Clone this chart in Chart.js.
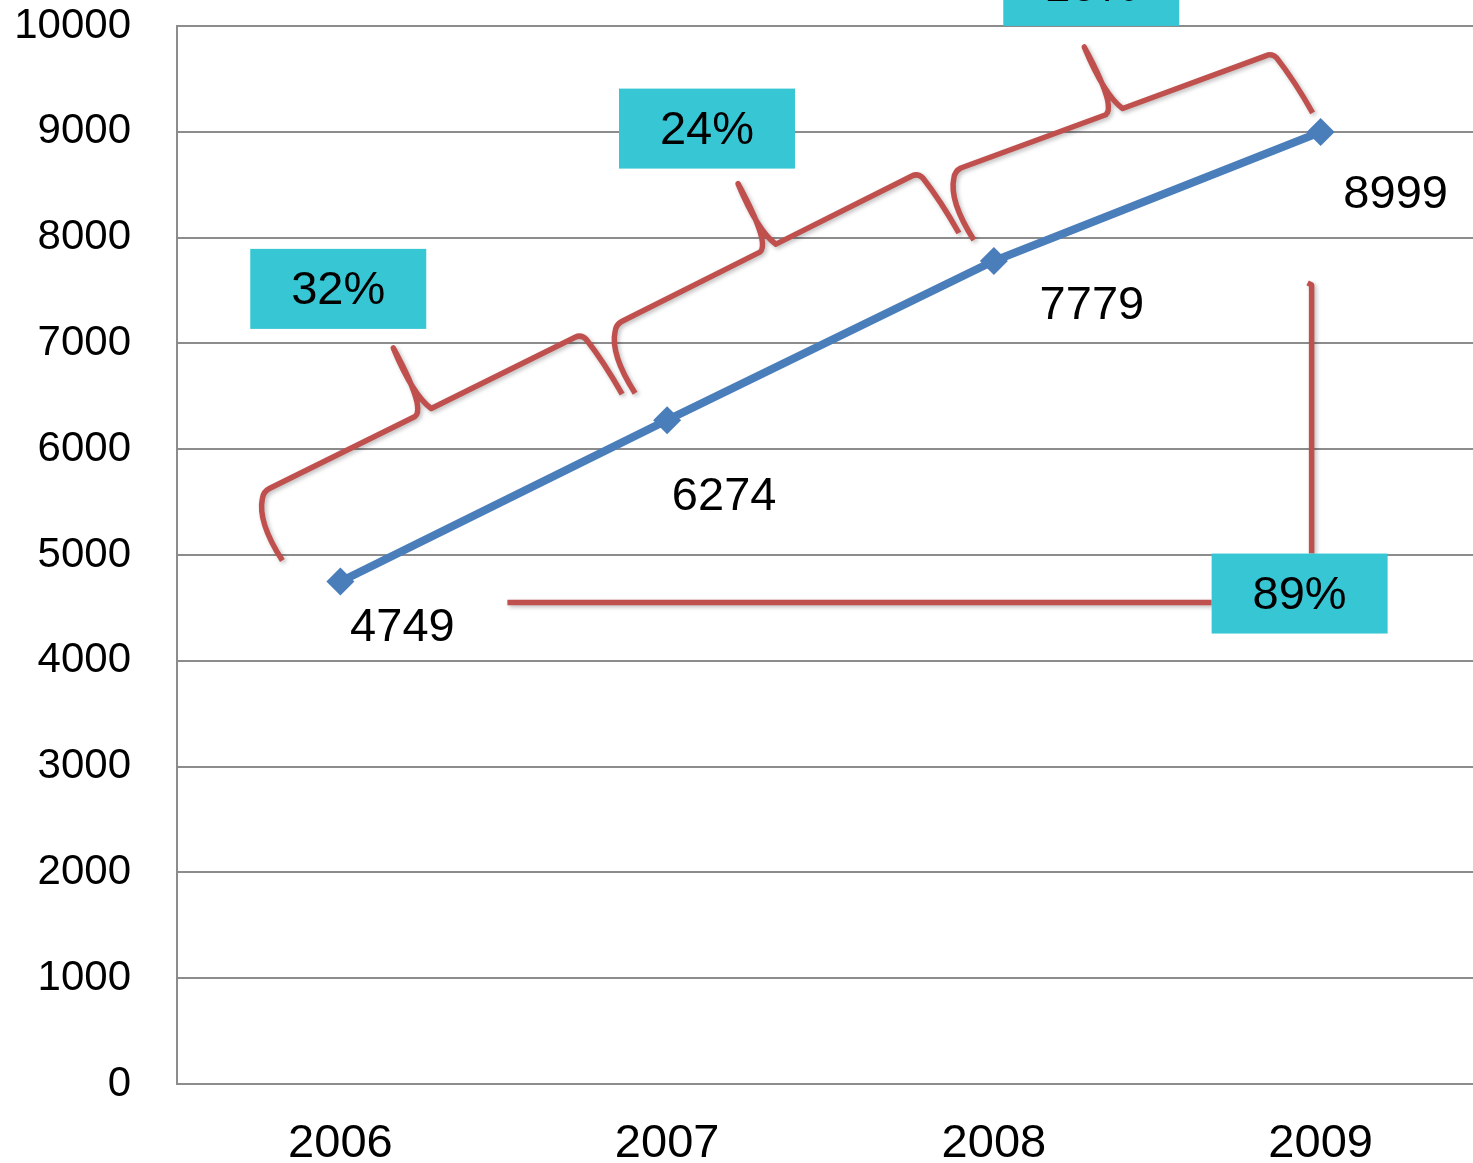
<!DOCTYPE html>
<html>
<head>
<meta charset="utf-8">
<title>Growth 2006-2009</title>
<script src="https://cdn.jsdelivr.net/npm/chart.js@4.4.1/dist/chart.umd.min.js"></script>
<style>
  html, body { margin: 0; padding: 0; background: #fff; overflow: hidden; }
  canvas { display: block; }
</style>
</head>
<body>
<canvas id="growthChart" width="1484" height="1163"></canvas>
<script>
// data
var years = ["2006", "2007", "2008", "2009"];
var values = [4749, 6274, 7779, 8999];
var yMin = 0;
var yMax = 10000;
var yStep = 1000;

var RED = "#C0504D";
var CYAN = "#36C6D4";
var BLUE = "#4A7EBB";

// braces, percentage boxes and value labels drawn on top of the line
var annotations = {
  id: "annotations",
  afterDatasetsDraw: function(chart) {
    var ctx = chart.ctx;
    var pts = chart.getDatasetMeta(0).data;
    var P = pts.map(function(p) { return { x: p.x, y: p.y }; });

    // value labels (offset from each point)
    var labelOffsets = [[62, 46], [57, 77], [98, 45], [75, 63]];
    ctx.save();
    ctx.fillStyle = "#000";
    ctx.font = "47px 'Liberation Sans', Arial, sans-serif";
    ctx.textAlign = "center";
    ctx.textBaseline = "middle";
    P.forEach(function(p, i) {
      ctx.fillText(String(values[i]), p.x + labelOffsets[i][0], p.y + labelOffsets[i][1]);
    });
    ctx.restore();

    function box(cx, cy, text) {
      ctx.save();
      ctx.fillStyle = CYAN;
      ctx.fillRect(cx - 88, cy - 40, 176, 80);
      ctx.fillStyle = "#000";
      ctx.font = "47px 'Liberation Sans', Arial, sans-serif";
      ctx.textAlign = "center";
      ctx.textBaseline = "middle";
      ctx.fillText(text, cx, cy + 2);
      ctx.restore();
    }

    function brace(a, b) {
      var ca = { x: a.x - 20, y: a.y - 69 };
      var cb = { x: b.x - 40, y: b.y - 60 };
      var dx = cb.x - ca.x, dy = cb.y - ca.y;
      var len = Math.sqrt(dx * dx + dy * dy);
      var ux = dx / len, uy = dy / len;
      var m = { x: (ca.x + cb.x) / 2, y: (ca.y + cb.y) / 2 };
      var mL = { x: m.x - 8 * ux, y: m.y - 8 * uy };
      var mR = { x: m.x + 10 * ux, y: m.y + 10 * uy };
      var tip = { x: m.x - 29, y: m.y - 65 };

      ctx.beginPath();
      ctx.moveTo(a.x, a.y);
      ctx.quadraticCurveTo(ca.x - 5, ca.y + 30, ca.x, ca.y + 7);
      ctx.quadraticCurveTo(ca.x + 1, ca.y, ca.x + 7, ca.y - 3);
      ctx.lineTo(mL.x, mL.y);
      ctx.quadraticCurveTo(mL.x + 4, mL.y - 3, mL.x + 2, mL.y - 14);
      ctx.quadraticCurveTo(mL.x - 2, mL.y - 32, tip.x, tip.y);
      ctx.quadraticCurveTo(tip.x + 20, tip.y + 48, mR.x, mR.y);
      ctx.lineTo(cb.x - 7, cb.y + 3);
      ctx.quadraticCurveTo(cb.x - 1, cb.y, cb.x + 4, cb.y + 5);
      ctx.quadraticCurveTo(b.x - 18, b.y - 32, b.x, b.y);
      ctx.stroke();
      return tip;
    }

    ctx.save();
    ctx.strokeStyle = RED;
    ctx.lineWidth = 5.5;
    ctx.lineJoin = "round";
    ctx.lineCap = "butt";
    ctx.shadowColor = "rgba(0,0,0,0.25)";
    ctx.shadowBlur = 4;
    ctx.shadowOffsetX = 2;
    ctx.shadowOffsetY = 2;

    var startOffsets = [[-58, -21], [-32, -27], [-20, -21]];
    var endOffsets = [[-45, -26], [-35, -28], [-8, -19]];
    var boxOffsets = [[-55, -59], [-31, -55], [7, -61]];
    var tips = [];
    for (var i = 0; i < P.length - 1; i++) {
      var a = { x: P[i].x + startOffsets[i][0], y: P[i].y + startOffsets[i][1] };
      var b = { x: P[i + 1].x + endOffsets[i][0], y: P[i + 1].y + endOffsets[i][1] };
      tips.push(brace(a, b));
    }

    // overall growth bracket
    var last = P.length - 1;
    var hy = P[0].y + 21;
    var vx = P[last].x - 9;
    var bx = P[last].x - 21, by = P[0].y + 12;
    ctx.beginPath();
    ctx.moveTo(P[0].x + 167, hy);
    ctx.lineTo(bx - 88, hy);
    ctx.stroke();
    ctx.beginPath();
    ctx.moveTo(vx - 4, P[last].y + 151);
    ctx.lineTo(vx, P[last].y + 153);
    ctx.lineTo(vx, by - 40);
    ctx.stroke();
    ctx.restore();

    for (var j = 0; j < tips.length; j++) {
      var pct = Math.round((values[j + 1] / values[j] - 1) * 100);
      box(tips[j].x + boxOffsets[j][0], tips[j].y + boxOffsets[j][1], pct + "%");
    }
    var total = Math.floor((values[last] / values[0] - 1) * 100);
    box(bx, by, total + "%");
  }
};

var ctx = document.getElementById("growthChart").getContext("2d");
var growthChart = new Chart(ctx, {
  type: "line",
  data: {
    labels: years,
    datasets: [
      {
        data: values,
        borderColor: BLUE,
        backgroundColor: BLUE,
        borderWidth: 8,
        pointStyle: "rectRot",
        pointRadius: 14,
        pointBorderWidth: 0,
        pointBackgroundColor: BLUE,
        tension: 0,
        fill: false
      }
    ]
  },
  options: {
    responsive: false,
    devicePixelRatio: 1,
    animation: false,
    layout: { autoPadding: false, padding: { top: 26, right: 0, bottom: 0, left: 0 } },
    plugins: {
      legend: { display: false },
      tooltip: { enabled: false }
    },
    scales: {
      x: {
        offset: true,
        grid: { display: false, drawTicks: false },
        border: { display: true, color: "#8c8c8c", width: 2 },
        ticks: {
          color: "#000",
          padding: 32,
          font: { family: "'Liberation Sans', Arial, sans-serif", size: 47 }
        },
        afterFit: function(scale) {
          scale.height = 79;
          scale.paddingLeft = 0;
          scale.paddingRight = 0;
        }
      },
      y: {
        min: yMin,
        max: yMax,
        grid: { color: "#8c8c8c", lineWidth: 2, drawTicks: false },
        border: { display: true, color: "#8c8c8c", width: 2 },
        ticks: {
          stepSize: yStep,
          color: "#000",
          padding: 46,
          font: { family: "'Liberation Sans', Arial, sans-serif", size: 42 },
          callback: function(v) { return String(v); }
        },
        afterFit: function(scale) {
          scale.width = 177;
          scale.paddingTop = 0;
          scale.paddingBottom = 0;
        }
      }
    }
  },
  plugins: [annotations]
});
</script>
</body>
</html>
